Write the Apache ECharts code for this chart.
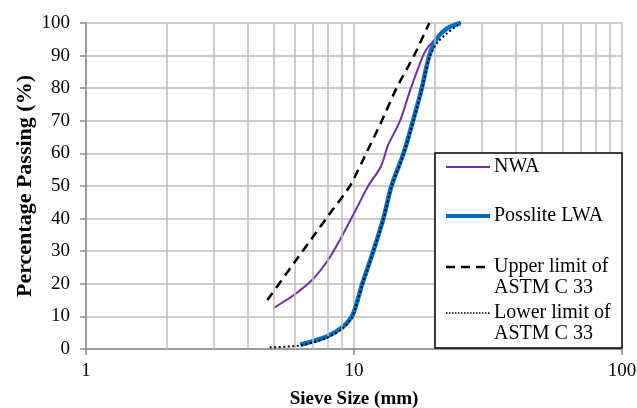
<!DOCTYPE html>
<html>
<head>
<meta charset="utf-8">
<script src="https://cdn.jsdelivr.net/npm/echarts@6/dist/echarts.min.js"></script>
<style>html,body{margin:0;padding:0;background:#fff}#c{width:637px;height:408px}</style>
</head>
<body>
<div id="c"></div>
<script>
// ---- data ----
const nwa = [[5,12.5],[6,16.7],[7,21.3],[8,27.3],[9,34.5],[10.1,42.3],[11.3,50],[12.6,56],[13.4,62.5],[14.85,70],[16.3,80],[18.1,90],[18.9,92.6],[20.4,95.6],[22.2,98.3],[25,100]];
const posslite = [[6.3,1.3],[7.9,3.8],[9.1,6.8],[9.8,9.9],[10.1,12.5],[10.74,20],[11.8,30],[12.87,40],[13.8,50],[15.3,60],[16.6,70],[17.9,80],[19.1,90],[20.4,95.3],[22.2,98.3],[25,100]];
const upperLimit = [[4.75,15],[6,26.6],[7,34.2],[8,40.8],[9.66,50],[11.1,60],[12.7,70],[14.4,80],[16.75,90],[19.1,100]];
const lowerLimit = [[4.85,0.5],[6.3,1.1],[7.9,3.4],[9.1,6.4],[9.8,9.5],[10.1,12.3],[10.74,19.8],[11.8,29.8],[12.87,39.8],[13.8,49.8],[15.3,59.8],[16.6,69.6],[17.9,79.5],[19.1,89.3],[20.3,93.6],[22.2,96.8],[25,100]];
const minorGrid = [2,3,4,5,6,7,8,9,20,30,40,50,60,70,80,90];
const legendNames = ['NWA','Posslite LWA','Upper limit of\nASTM C 33','Lower limit of\nASTM C 33'];

const FONT = 'Liberation Serif';
const chart = echarts.init(document.getElementById('c'));
const gridColor = '#bdbdbd';
const axisColor = '#8c8c8c';
const L = {zlevel: 1, z: 100};

chart.setOption({
  animation: false,
  grid: {left: 86, right: 15, top: 23, bottom: 59, containLabel: false, outerBoundsMode: 'none'},
  xAxis: {
    type: 'log', logBase: 10, min: 1, max: 100,
    name: 'Sieve Size (mm)', nameLocation: 'middle', nameGap: 40.5,
    nameTextStyle: {fontFamily: FONT, fontWeight: 'bold', fontSize: 19, color: '#000'},
    axisLine: {show: true, lineStyle: {color: axisColor, width: 1.5}},
    axisTick: {show: true, length: 6, lineStyle: {color: axisColor, width: 1.5}},
    axisLabel: {fontFamily: FONT, fontSize: 19, color: '#000', margin: 13},
    splitLine: {show: true, lineStyle: {color: gridColor, width: 1.5}},
    minorTick: {show: false}, minorSplitLine: {show: false}
  },
  yAxis: {
    type: 'value', min: 0, max: 100, interval: 10,
    name: 'Percentage Passing (%)', nameLocation: 'middle', nameGap: 50, nameRotate: 90,
    nameMoveOverlap: false,
    nameTextStyle: {fontFamily: FONT, fontWeight: 'bold', fontSize: 22, color: '#000'},
    axisLine: {show: true, lineStyle: {color: axisColor, width: 1.5}},
    axisTick: {show: true, length: 6, lineStyle: {color: axisColor, width: 1.5}},
    axisLabel: {fontFamily: FONT, fontSize: 19, color: '#000', margin: 16},
    splitLine: {show: true, lineStyle: {color: gridColor, width: 1.5}}
  },
  series: [
    {
      type: 'line', name: 'grid', data: [], silent: true,
      markLine: {
        silent: true, symbol: 'none', label: {show: false},
        lineStyle: {color: gridColor, width: 1.5, type: 'solid'},
        data: minorGrid.map(v => ({xAxis: v}))
      }
    },
    {type: 'line', name: legendNames[0], data: nwa, smooth: 0.3, showSymbol: false,
      lineStyle: {color: '#7030a0', width: 2}, z: 3},
    {type: 'line', name: legendNames[1], data: posslite, smooth: 0.3, showSymbol: false,
      lineStyle: {color: '#0070c0', width: 4.5}, z: 4},
    {type: 'line', name: legendNames[2], data: upperLimit, smooth: 0.2, showSymbol: false,
      lineStyle: {color: '#000', width: 2.5, type: [9, 6]}, z: 5},
    {type: 'line', name: legendNames[3], data: lowerLimit, smooth: 0.3, showSymbol: false,
      lineStyle: {color: '#000', width: 2, type: [2, 2.5]}, z: 6}
  ],
  graphic: [
    Object.assign({type: 'rect', shape: {x: 435, y: 153, width: 187, height: 195},
      style: {fill: '#fff', stroke: '#000', lineWidth: 1.5}}, L),
    Object.assign({type: 'line', shape: {x1: 446, y1: 167, x2: 490, y2: 167}, style: {stroke: '#7030a0', lineWidth: 2}}, L, {z: 101}),
    Object.assign({type: 'text', x: 494, y: 167, style: {text: legendNames[0], font: '20px "Liberation Serif"', fill: '#000', verticalAlign: 'middle'}}, L, {z: 101}),
    Object.assign({type: 'line', shape: {x1: 446, y1: 216, x2: 490, y2: 216}, style: {stroke: '#0070c0', lineWidth: 4}}, L, {z: 101}),
    Object.assign({type: 'text', x: 494, y: 216, style: {text: legendNames[1], font: '20px "Liberation Serif"', fill: '#000', verticalAlign: 'middle'}}, L, {z: 101}),
    Object.assign({type: 'line', shape: {x1: 446, y1: 267, x2: 490, y2: 267}, style: {stroke: '#000', lineWidth: 2.5, lineDash: [9, 6]}}, L, {z: 101}),
    Object.assign({type: 'text', x: 494, y: 256, style: {text: legendNames[2], font: '20px "Liberation Serif"', fill: '#000', verticalAlign: 'top', lineHeight: 21}}, L, {z: 101}),
    Object.assign({type: 'line', shape: {x1: 446, y1: 313, x2: 490, y2: 313}, style: {stroke: '#000', lineWidth: 1.5, lineDash: [1.5, 1.5]}}, L, {z: 101}),
    Object.assign({type: 'text', x: 494, y: 302, style: {text: legendNames[3], font: '20px "Liberation Serif"', fill: '#000', verticalAlign: 'top', lineHeight: 21}}, L, {z: 101})
  ]
});
</script>
</body>
</html>
